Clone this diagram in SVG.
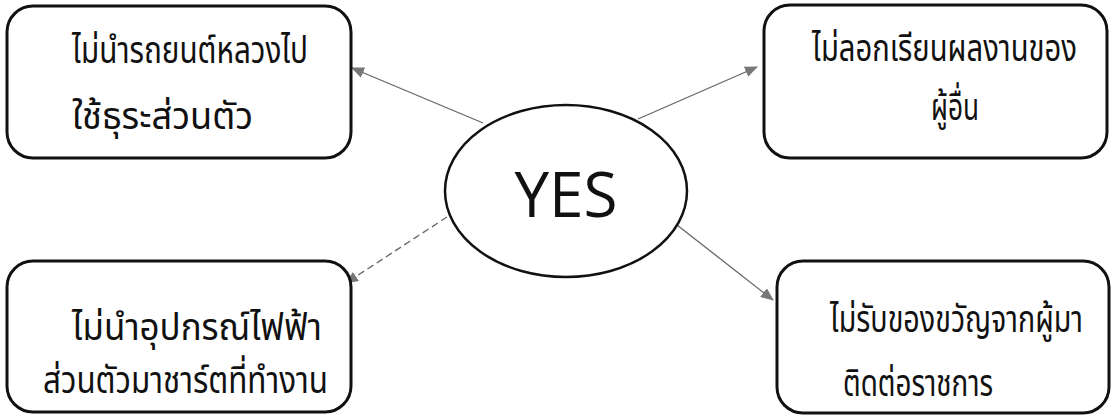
<svg xmlns="http://www.w3.org/2000/svg" width="1118" height="417" viewBox="0 0 1118 417">
  <style>
    .box { fill: #ffffff; stroke: #111111; stroke-width: 3; }
    .th { font-family: "Noto Sans Thai", "Noto Sans Thai UI", "Loma", "Garuda", "Norasi", "Noto Sans", sans-serif; font-size: 30px; fill: #111111; }
    .yes { font-family: "Open Sans", "Noto Sans", sans-serif; font-size: 62px; fill: #111111; }
    .conn { stroke: #666666; stroke-width: 1.3; fill: none; }
  </style>
  <defs>
    <marker id="arrow" viewBox="0 0 13 11" refX="12" refY="5.5" markerWidth="13" markerHeight="11" markerUnits="userSpaceOnUse" orient="auto">
      <path d="M0,0 L13,5.5 L0,11 Z" fill="#777777"/>
    </marker>
  </defs>
  <rect width="1118" height="417" fill="#ffffff"/>
  <g id="connectors">
    <line class="conn" x1="483" y1="123" x2="352" y2="68" marker-end="url(#arrow)"/>
    <line class="conn" x1="638" y1="119" x2="757" y2="67" marker-end="url(#arrow)"/>
    <line class="conn" x1="447" y1="217" x2="346" y2="283" stroke-dasharray="7 4" marker-end="url(#arrow)"/>
    <line class="conn" x1="677" y1="225" x2="773" y2="300" marker-end="url(#arrow)"/>
  </g>
  <g id="node-center">
    <ellipse cx="566" cy="191" rx="121" ry="86" fill="#ffffff" stroke="#111111" stroke-width="2.5"/>
    <text class="yes" x="566" y="217" text-anchor="middle">YES</text>
  </g>
  <g id="node-top-left">
    <rect class="box" x="7" y="6" width="344" height="152" rx="26"/>
    <text class="th" transform="translate(72,63) scale(1,1.25)" textLength="236" lengthAdjust="spacingAndGlyphs">ไม่นำรถยนต์หลวงไป</text>
    <text class="th" transform="translate(72,129) scale(1,1.25)" textLength="181" lengthAdjust="spacingAndGlyphs">ใช้ธุระส่วนตัว</text>
  </g>
  <g id="node-top-right">
    <rect class="box" x="764" y="5" width="343" height="153" rx="26"/>
    <text class="th" transform="translate(812,61) scale(1,1.25)" textLength="265" lengthAdjust="spacingAndGlyphs">ไม่ลอกเรียนผลงานของ</text>
    <text class="th" transform="translate(931,120) scale(1,1.25)" textLength="48" lengthAdjust="spacingAndGlyphs">ผู้อื่น</text>
  </g>
  <g id="node-bottom-left">
    <rect class="box" x="7" y="261" width="344" height="151" rx="26"/>
    <text class="th" transform="translate(72,340) scale(1,1.25)" textLength="250" lengthAdjust="spacingAndGlyphs">ไม่นำอุปกรณ์ไฟฟ้า</text>
    <text class="th" transform="translate(43,393) scale(1,1.25)" textLength="285" lengthAdjust="spacingAndGlyphs">ส่วนตัวมาชาร์ตที่ทำงาน</text>
  </g>
  <g id="node-bottom-right">
    <rect class="box" x="777" y="261" width="332" height="152" rx="26"/>
    <text class="th" transform="translate(830,332) scale(1,1.25)" textLength="253" lengthAdjust="spacingAndGlyphs">ไม่รับของขวัญจากผู้มา</text>
    <text class="th" transform="translate(843,396) scale(1,1.25)" textLength="150" lengthAdjust="spacingAndGlyphs">ติดต่อราชการ</text>
  </g>
</svg>
